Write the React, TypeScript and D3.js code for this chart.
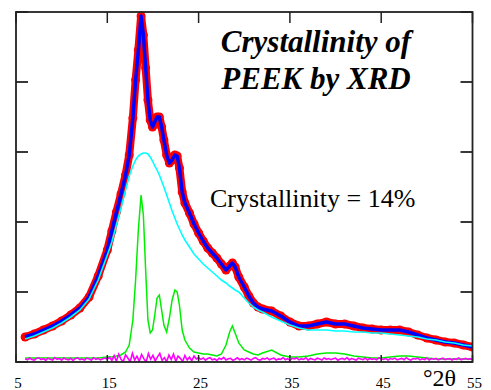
import React from 'react';
import * as d3 from 'd3';

// 2θ grid (degrees)
const twoTheta = [6, 7, 8, 9, 10, 11, 12, 13, 14, 15, 15.5, 16, 16.5, 17, 17.4, 17.8, 18.1, 18.4, 18.7, 18.95, 19.2, 19.45, 19.7, 19.95, 20.2, 20.45, 20.7, 20.95, 21.2, 21.5, 21.8, 22.1, 22.4, 22.65, 22.9, 23.2, 23.5, 24, 24.5, 25, 25.5, 26, 26.5, 27, 27.5, 28, 28.4, 28.7, 29, 29.4, 30, 30.5, 31, 31.5, 32, 33, 34, 35, 36, 37, 38, 39, 40, 41, 42, 43, 44, 45, 46, 47, 48, 49, 50, 51, 52, 53, 54, 55];

// observed intensity (red dots / blue fit)
const observed = [250, 280, 320, 360, 410, 470, 540, 650, 860, 1120, 1310, 1500, 1680, 1870, 2070, 2440, 2820, 3120, 3460, 3270, 2940, 2620, 2420, 2350, 2400, 2450, 2450, 2350, 2220, 2070, 1990, 2020, 2070, 2060, 1940, 1700, 1590, 1490, 1380, 1290, 1210, 1140, 1090, 1040, 980, 920, 960, 990, 950, 850, 750, 660, 590, 550, 530, 510, 460, 400, 360, 360, 380, 400, 380, 380, 360, 340, 330, 320, 320, 320, 300, 270, 240, 220, 200, 190, 170, 150];

// amorphous halo (cyan)
const amorphous = [230, 260, 300, 340, 390, 450, 520, 630, 820, 1070, 1200, 1370, 1540, 1720, 1860, 1960, 2020, 2060, 2080, 2090, 2090, 2080, 2050, 2010, 1960, 1920, 1870, 1810, 1750, 1670, 1590, 1510, 1440, 1380, 1330, 1270, 1220, 1150, 1080, 1030, 980, 940, 900, 860, 820, 790, 760, 740, 720, 700, 640, 590, 550, 520, 500, 450, 410, 370, 340, 320, 320, 320, 310, 310, 300, 300, 290, 290, 280, 270, 260, 250, 230, 220, 200, 190, 170, 160];

// crystalline peaks (green)
const crystalline = [40, 40, 40, 40, 40, 40, 40, 40, 40, 50, 50, 60, 70, 100, 170, 420, 820, 1320, 1670, 1470, 920, 420, 290, 320, 470, 640, 670, 520, 370, 300, 440, 620, 720, 700, 570, 320, 220, 140, 100, 90, 80, 80, 70, 60, 80, 170, 300, 360, 290, 190, 120, 100, 80, 70, 90, 120, 70, 50, 50, 60, 80, 90, 90, 80, 60, 50, 40, 40, 50, 60, 60, 50, 40, 30, 30, 30, 30, 30];

// residual (magenta), sampled every 0.25° from 6°
const residualStart = 6;
const residualStep = 0.25;
const residual = [32, 22, 40, 26, 18, 36, 42, 24, 33, 16, 38, 28, 20, 44, 26, 35, 17, 40, 27, 22, 37, 15, 34, 41, 24, 30, 19, 39, 31, 18, 43, 26, 36, 21, 33, 40, 27,
  48, 15, 64, 8, 78, 26, 4, 72, 40, 2, 88, 20, 58, 6, 76, 34, 0, 84, 28, 66, 10, 52, 86, 16, 44, 3, 70, 24, 80, 8, 58, 36, 5, 66, 20, 48, 12, 60, 30, 42,
  26, 40, 18, 35, 44, 22, 31, 15, 38, 27, 46, 20, 33, 37, 17, 28, 42, 23, 34, 21, 39, 30, 19, 36, 44, 25, 18, 35, 28, 41, 22, 32, 38, 20, 31, 27, 45, 23, 34, 17, 37, 30, 40, 21, 33, 26, 43, 19, 36, 28, 22, 38, 31, 20, 41, 27, 35, 23, 32, 39, 18, 30, 36, 25, 44, 21, 34, 28, 19, 38, 31, 23, 40, 20, 35, 27, 32, 22, 41, 30, 25, 36, 19, 34, 28, 39, 21, 31, 36, 23, 43, 27, 20, 35, 30, 38, 22, 32, 25, 40, 19, 34, 28, 36, 21, 31, 39, 23, 30, 35, 20, 32, 27, 41, 22, 31, 36, 25, 33, 28, 30];

const xTicks = [5, 15, 25, 35, 45, 55];
const yTicks = [0, 700, 1400, 2100, 2800, 3500];
const titleLines = ['Crystallinity of', 'PEEK by XRD'];
const crystallinityLabel = 'Crystallinity = 14%';
const xAxisLabel = '°2θ';

const serif = 'Liberation Serif';

export default function App() {
  const W = 491, H = 390;
  const L = 16, R = 472.5, T = 12, B = 362;
  const x = d3.scaleLinear().domain([5, 55]).range([L, R]);
  const y = d3.scaleLinear().domain([0, 3500]).range([B, T]);
  const mk = (xs: number[]) => d3.line<number>().x((_, i) => x(xs[i])).y((d) => y(d));
  const gridLine = mk(twoTheta);
  const resX = residual.map((_, i) => residualStart + i * residualStep);
  const resLine = mk(resX);

  return (
    <svg width={W} height={H} style={{ position: 'absolute', left: 0, top: 0, background: '#fff' }}>
      <defs>
        <clipPath id="plotclip"><rect x={L} y={T - 4} width={R - L} height={B - T + 4} /></clipPath>
      </defs>
      <g clipPath="url(#plotclip)">
        <path d={gridLine(observed) || ''} fill="none" stroke="#ff0000" strokeWidth={8} strokeLinejoin="round" strokeLinecap="round" />
        {observed.map((v, i) => (
          <circle key={i} cx={x(twoTheta[i])} cy={y(v)} r={4.5} fill="#ff0000" />
        ))}
        <path d={gridLine(observed) || ''} fill="none" stroke="#0000ff" strokeWidth={3.5} strokeLinejoin="round" />
        <path d={gridLine(amorphous) || ''} fill="none" stroke="#00ffff" strokeWidth={1.6} />
        <path d={gridLine(crystalline) || ''} fill="none" stroke="#00ee00" strokeWidth={1.5} />
        <path d={resLine(residual) || ''} fill="none" stroke="#ff00ff" strokeWidth={1.6} />
      </g>
      <rect x={L} y={T} width={R - L} height={B - T} fill="none" stroke="#222" strokeWidth={1.8} />
      {yTicks.map((t) => (
        <g key={'y' + t}>
          <line x1={L} x2={L + 12} y1={y(t)} y2={y(t)} stroke="#222" strokeWidth={1.8} />
          <line x1={R - 12} x2={R} y1={y(t)} y2={y(t)} stroke="#222" strokeWidth={1.8} />
        </g>
      ))}
      {xTicks.map((t) => (
        <g key={'x' + t}>
          <line x1={x(t)} x2={x(t)} y1={B} y2={B - 7} stroke="#222" strokeWidth={1.5} />
          <line x1={x(t)} x2={x(t)} y1={T} y2={T + 11} stroke="#222" strokeWidth={1.5} />
          <text x={x(t) + 2} y={388} textAnchor="middle" fontFamily={serif} fontSize={15} fill="#000">{t}</text>
        </g>
      ))}
      <text x={456} y={386} textAnchor="end" fontFamily={serif} fontSize={24} fill="#000">{xAxisLabel}</text>
      {titleLines.map((s, i) => (
        <text key={s} x={316} y={52 + i * 37} textAnchor="middle" fontFamily={serif} fontSize={31} fontWeight="bold" fontStyle="italic" fill="#000">{s}</text>
      ))}
      <text x={210} y={207} fontFamily={serif} fontSize={26} fill="#000">{crystallinityLabel}</text>
    </svg>
  );
}
